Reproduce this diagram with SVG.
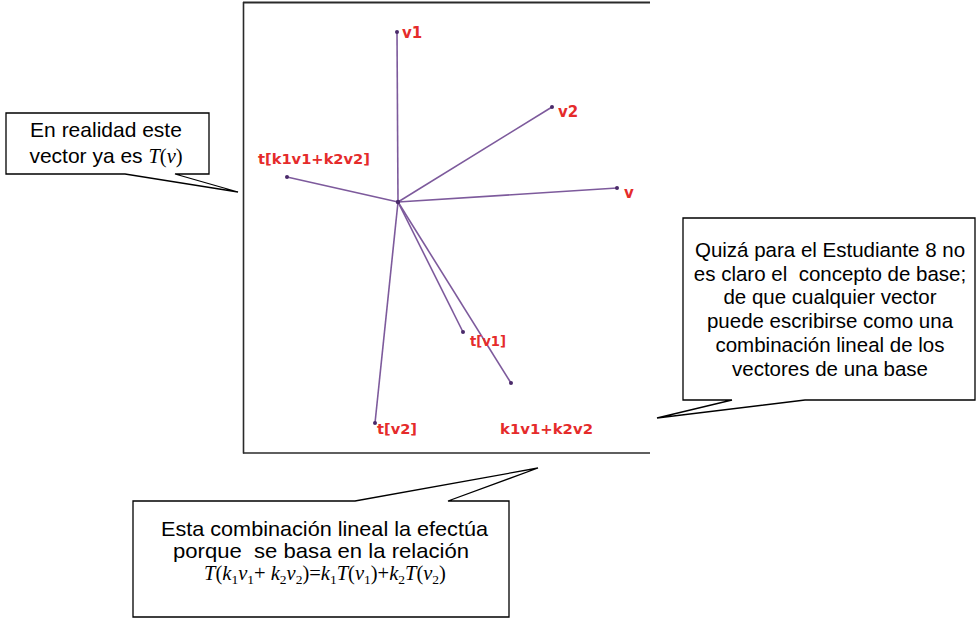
<svg xmlns="http://www.w3.org/2000/svg" width="977" height="618" viewBox="0 0 977 618">
<style>
.frame{stroke:#2a2a2a;fill:none}
.vec{stroke:#7d5a9c;stroke-width:1.6;fill:none}
.tip{fill:#4a2a6a}
.lbl{font-family:"DejaVu Sans",sans-serif;font-weight:bold;font-size:14px;fill:#e52b2b}
.box{fill:#fff;stroke:#000;stroke-width:1.3;stroke-linejoin:miter}
.txt{font-family:"Liberation Sans",Arial,sans-serif;font-size:21px;fill:#000}
.m{font-family:"Liberation Serif","Times New Roman",serif;font-size:20.5px;fill:#000}
.i{font-style:italic}
.sub{font-size:13.5px;font-style:normal}
</style>
<rect width="977" height="618" fill="#fff"/>

<g id="figure">
  <line class="frame" x1="243" y1="2.5" x2="650" y2="2.5" stroke-width="2.2"/>
  <line class="frame" x1="243.5" y1="2" x2="243.5" y2="453.5" stroke-width="1.6"/>
  <line class="frame" x1="243" y1="453" x2="650" y2="453" stroke-width="1.6"/>
</g>

<g id="connectors">
  <line class="vec" x1="398" y1="202" x2="397" y2="32"/>
  <line class="vec" x1="398" y1="202" x2="552" y2="107"/>
  <line class="vec" x1="398" y1="202" x2="287" y2="177"/>
  <line class="vec" x1="398" y1="202" x2="617" y2="188"/>
  <line class="vec" x1="398" y1="202" x2="463" y2="332"/>
  <line class="vec" x1="398" y1="202" x2="511" y2="383"/>
  <line class="vec" x1="398" y1="202" x2="375" y2="423"/>
  <circle class="tip" cx="398" cy="202" r="2.2"/>
  <circle class="tip" cx="397" cy="32" r="2"/>
  <circle class="tip" cx="552" cy="107" r="2"/>
  <circle class="tip" cx="287" cy="177" r="2"/>
  <circle class="tip" cx="617" cy="188" r="2"/>
  <circle class="tip" cx="463" cy="332" r="2"/>
  <circle class="tip" cx="511" cy="383" r="2"/>
  <circle class="tip" cx="375" cy="423" r="2"/>
</g>

<g id="labels">
  <text class="lbl" x="402" y="38" style="font-size:15px">v1</text>
  <text class="lbl" x="558" y="117" style="font-size:15px">v2</text>
  <text class="lbl" x="258" y="164" textLength="112" lengthAdjust="spacingAndGlyphs">t[k1v1+k2v2]</text>
  <text class="lbl" x="624" y="198" style="font-size:15px">v</text>
  <text class="lbl" x="470" y="346" textLength="36" lengthAdjust="spacingAndGlyphs">t[v1]</text>
  <text class="lbl" x="377" y="434" textLength="40" lengthAdjust="spacingAndGlyphs">t[v2]</text>
  <text class="lbl" x="500" y="434" textLength="93" lengthAdjust="spacingAndGlyphs">k1v1+k2v2</text>
</g>

<g id="callout-left">
  <path class="box" d="M6,113 H209 V174 H175 L238,192 L125,174 H6 Z"/>
  <text class="txt" x="106" y="137" text-anchor="middle">En realidad este</text>
  <text class="txt" x="106" y="163" text-anchor="middle">vector ya es <tspan class="m i">T</tspan><tspan class="m">(</tspan><tspan class="m i">v</tspan><tspan class="m">)</tspan></text>
</g>

<g id="callout-right">
  <path class="box" d="M683,218 H975 V400 H805 L657,418 L732,400 H683 Z"/>
  <g class="txt" text-anchor="middle" style="font-size:20.5px">
    <text x="830" y="257">Quizá para el Estudiante 8 no</text>
    <text x="830" y="281" xml:space="preserve">es claro el  concepto de base;</text>
    <text x="830" y="304">de que cualquier vector</text>
    <text x="830" y="328">puede escribirse como una</text>
    <text x="830" y="352">combinación lineal de los</text>
    <text x="830" y="376">vectores de una base</text>
  </g>
</g>

<g id="callout-bottom">
  <path class="box" d="M133,501 H355 L538,468 L448,501 H509 V617 H133 Z"/>
  <text class="txt" x="161" y="536" textLength="327" lengthAdjust="spacingAndGlyphs">Esta combinación lineal la efectúa</text>
  <text class="txt" x="173" y="558" textLength="296" lengthAdjust="spacingAndGlyphs" xml:space="preserve">porque  se basa en la relación</text>
  <text class="m" x="325" y="580" text-anchor="middle"><tspan class="i">T</tspan>(<tspan class="i">k</tspan><tspan class="sub" dy="4">1</tspan><tspan class="i" dy="-4">v</tspan><tspan class="sub" dy="4">1</tspan><tspan dy="-4">+ </tspan><tspan class="i">k</tspan><tspan class="sub" dy="4">2</tspan><tspan class="i" dy="-4">v</tspan><tspan class="sub" dy="4">2</tspan><tspan dy="-4">)=</tspan><tspan class="i">k</tspan><tspan class="sub" dy="4">1</tspan><tspan class="i" dy="-4">T</tspan>(<tspan class="i">v</tspan><tspan class="sub" dy="4">1</tspan><tspan dy="-4">)+</tspan><tspan class="i">k</tspan><tspan class="sub" dy="4">2</tspan><tspan class="i" dy="-4">T</tspan>(<tspan class="i">v</tspan><tspan class="sub" dy="4">2</tspan><tspan dy="-4">)</tspan></text>
</g>
</svg>
